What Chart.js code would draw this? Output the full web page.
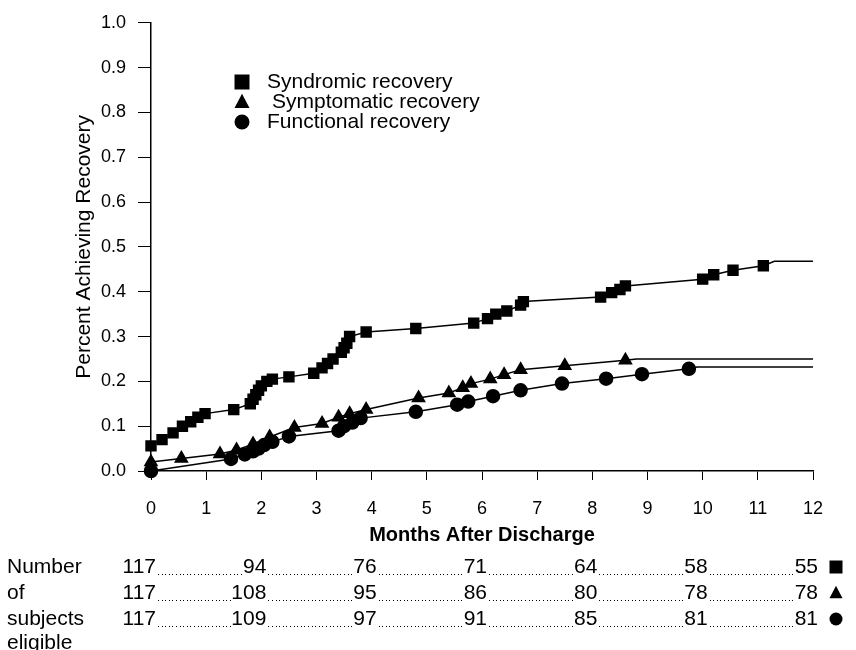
<!DOCTYPE html>
<html>
<head>
<meta charset="utf-8">
<title>Recovery after discharge</title>
<script src="https://cdn.jsdelivr.net/npm/chart.js@4.4.0/dist/chart.umd.min.js"></script>
<style>
  html, body { margin: 0; padding: 0; background: #fff; }
  #wrap { width: 856px; height: 650px; }
</style>
</head>
<body>
<div id="wrap"><canvas id="recoveryChart" width="856" height="650"></canvas></div>
<script>
// === Data ===
const synMonths = [0, 0.2, 0.4, 0.57, 0.72, 0.85, 0.98, 1.5, 1.8, 1.85, 1.9, 1.95, 2.0, 2.1, 2.2, 2.5, 2.95, 3.1, 3.2, 3.3, 3.45, 3.5, 3.55, 3.6, 3.9, 4.8, 5.85, 6.1, 6.25, 6.45, 6.7, 6.75, 8.15, 8.35, 8.5, 8.6, 10.0, 10.2, 10.55, 11.1];
const synValues = [0.056, 0.07, 0.085, 0.1, 0.11, 0.12, 0.128, 0.137, 0.15, 0.16, 0.17, 0.18, 0.19, 0.2, 0.205, 0.21, 0.218, 0.23, 0.24, 0.25, 0.265, 0.275, 0.285, 0.3, 0.31, 0.318, 0.33, 0.34, 0.35, 0.357, 0.37, 0.378, 0.388, 0.398, 0.405, 0.413, 0.428, 0.438, 0.448, 0.458];
const synTailMonths = [11.3, 12];
const synTailValues = [0.468, 0.468];

const symMonths = [0, 0.55, 1.25, 1.55, 1.85, 2.15, 2.6, 3.1, 3.4, 3.6, 3.9, 4.85, 5.4, 5.65, 5.8, 6.15, 6.4, 6.7, 7.5, 8.6];
const symValues = [0.02, 0.028, 0.038, 0.047, 0.06, 0.076, 0.097, 0.106, 0.12, 0.128, 0.137, 0.163, 0.174, 0.186, 0.195, 0.205, 0.215, 0.226, 0.235, 0.247];
const symTailMonths = [8.8, 12];
const symTailValues = [0.25, 0.25];

const funMonths = [0, 1.45, 1.7, 1.85, 1.95, 2.05, 2.2, 2.5, 3.4, 3.5, 3.65, 3.8, 4.8, 5.55, 5.75, 6.2, 6.7, 7.45, 8.25, 8.9, 9.75];
const funValues = [0.0, 0.027, 0.037, 0.044, 0.05, 0.058, 0.065, 0.077, 0.09, 0.1, 0.108, 0.118, 0.132, 0.148, 0.155, 0.167, 0.18, 0.195, 0.206, 0.216, 0.228];
const funTailMonths = [9.9, 12];
const funTailValues = [0.232, 0.232];

const seriesNames = ['Syndromic recovery', 'Symptomatic recovery', 'Functional recovery'];
const seriesStyles = ['rect', 'triangle', 'circle'];

const xTickValues = [0, 1, 2, 3, 4, 5, 6, 7, 8, 9, 10, 11, 12];
const yTickValues = [0, 0.1, 0.2, 0.3, 0.4, 0.5, 0.6, 0.7, 0.8, 0.9, 1.0];

const eligibleMonths = [0, 2, 4, 6, 8, 10, 12];
const eligibleSyn = [117, 94, 76, 71, 64, 58, 55];
const eligibleSym = [117, 108, 95, 86, 80, 78, 78];
const eligibleFun = [117, 109, 97, 91, 85, 81, 81];
const rowLabels = ['Number', 'of', 'subjects', 'eligible'];

const FONT = '"Liberation Sans", Arial, Helvetica, sans-serif';

// === Helpers ===
function buildPoints(xs, ys, tailXs, tailYs) {
  const pts = xs.map((x, i) => ({ x: x, y: ys[i] }));
  tailXs.forEach((x, i) => pts.push({ x: x, y: tailYs[i] }));
  return pts;
}

function radii(count, tailCount, r) {
  return Array(count).fill(r).concat(Array(tailCount).fill(0));
}

function drawMarker(ctx, style, x, y, r) {
  ctx.beginPath();
  if (style === 'rect') {
    ctx.rect(x - r, y - r, 2 * r, 2 * r);
  } else if (style === 'triangle') {
    ctx.moveTo(x, y - r * 1.1);
    ctx.lineTo(x + r, y + r * 0.8);
    ctx.lineTo(x - r, y + r * 0.8);
    ctx.closePath();
  } else {
    ctx.arc(x, y, r, 0, Math.PI * 2);
  }
  ctx.fill();
}

// === Legend + eligible table drawn on the canvas ===
const annotations = {
  id: 'annotations',
  afterDraw(chart) {
    const ctx = chart.ctx;
    const xs = chart.scales.x;
    ctx.save();
    ctx.fillStyle = '#000';
    ctx.textBaseline = 'middle';

    // legend
    ctx.font = '21px ' + FONT;
    const legendY = [82, 102, 122];
    const legendTextX = [267, 272, 267];
    seriesStyles.forEach((st, i) => {
      drawMarker(ctx, st, 242, legendY[i], 7.5);
      ctx.textAlign = 'left';
      ctx.fillText(seriesNames[i], legendTextX[i], legendY[i]);
    });

    // row labels
    ctx.font = '21px ' + FONT;
    const rowY = [567, 593, 619, 643];
    rowLabels.forEach((lab, i) => {
      ctx.textAlign = 'left';
      ctx.fillText(lab, 7, rowY[i]);
    });

    // numbers with dotted leaders
    const rows = [eligibleSyn, eligibleSym, eligibleFun];
    rows.forEach((vals, r) => {
      const y = rowY[r];
      let prevEnd = null;
      vals.forEach((v, i) => {
        const right = xs.getPixelForValue(eligibleMonths[i]) + 5;
        const txt = String(v);
        const w = ctx.measureText(txt).width;
        ctx.textAlign = 'right';
        ctx.fillText(txt, right, y);
        if (prevEnd !== null) {
          for (let dx = prevEnd + 2; dx < right - w - 1; dx += 3.6) {
            ctx.fillRect(Math.round(dx), y + 7, 1, 1);
          }
        }
        prevEnd = right;
      });
      drawMarker(ctx, seriesStyles[r], 836, y, 6.5);
    });
    ctx.restore();
  }
};

// === Chart ===
const lineStyle = { borderColor: '#000', backgroundColor: '#000', borderWidth: 1.5, showLine: true, tension: 0 };

new Chart(document.getElementById('recoveryChart'), {
  type: 'scatter',
  data: {
    datasets: [
      Object.assign({
        label: seriesNames[0],
        data: buildPoints(synMonths, synValues, synTailMonths, synTailValues),
        pointStyle: 'rect',
        pointRadius: radii(synMonths.length, synTailMonths.length, 7)
      }, lineStyle),
      Object.assign({
        label: seriesNames[1],
        data: buildPoints(symMonths, symValues, symTailMonths, symTailValues),
        pointStyle: 'triangle',
        pointRadius: radii(symMonths.length, symTailMonths.length, 7)
      }, lineStyle),
      Object.assign({
        label: seriesNames[2],
        data: buildPoints(funMonths, funValues, funTailMonths, funTailValues),
        pointStyle: 'circle',
        pointRadius: radii(funMonths.length, funTailMonths.length, 6.5)
      }, lineStyle)
    ]
  },
  options: {
    responsive: false,
    animation: false,
    clip: false,
    layout: { padding: { left: 0, right: 43, top: 22, bottom: 103 } },
    plugins: { legend: { display: false }, tooltip: { enabled: false } },
    scales: {
      x: {
        type: 'linear',
        min: 0,
        max: 12,
        afterFit: (s) => { s.height = 76; },
        afterBuildTicks: (s) => { s.ticks = xTickValues.map(v => ({ value: v })); },
        grid: { drawOnChartArea: false, color: '#000', tickLength: 9, tickColor: '#000' },
        border: { color: '#000', width: 1.5 },
        ticks: { color: '#000', font: { family: FONT, size: 18 }, padding: 18, maxRotation: 0 },
        title: {
          display: true,
          text: 'Months After Discharge',
          color: '#000',
          font: { family: FONT, size: 20, weight: 'bold' },
          padding: { top: 0, bottom: 0 }
        }
      },
      y: {
        type: 'linear',
        min: 0,
        max: 1,
        afterFit: (s) => { s.width = 151; },
        afterBuildTicks: (s) => { s.ticks = yTickValues.map(v => ({ value: v })); },
        grid: { drawOnChartArea: false, color: '#000', tickLength: 13, tickColor: '#000' },
        border: { color: '#000', width: 1.5 },
        ticks: {
          color: '#000',
          font: { family: FONT, size: 18 },
          padding: 12,
          callback: (v) => Number(v).toFixed(1)
        },
        title: {
          display: true,
          text: 'Percent Achieving Recovery',
          color: '#000',
          font: { family: FONT, size: 21 },
          padding: { top: 72, bottom: 0 }
        }
      }
    }
  },
  plugins: [annotations]
});
</script>
</body>
</html>
